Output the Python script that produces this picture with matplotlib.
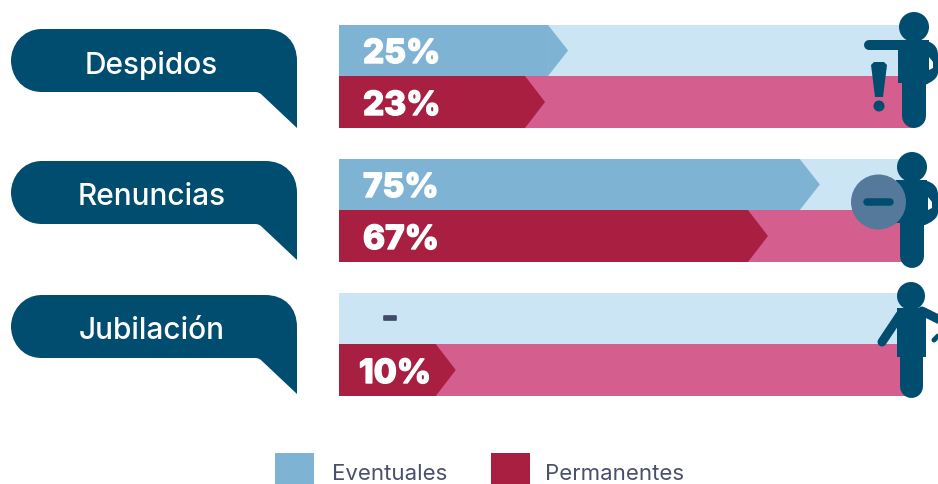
import matplotlib
matplotlib.use('Agg')
import matplotlib.pyplot as plt
import matplotlib.patheffects as pe
from matplotlib.patches import Circle, PathPatch, Polygon, Rectangle
from matplotlib.path import Path

categorias = ['Despidos', 'Renuncias', 'Jubilación']
eventuales_txt = ['25%', '75%', '-']
permanentes_txt = ['23%', '67%', '10%']
# bar length as drawn, in % of the track (the picture is not proportional to the labels)
eventuales_largo = [36.3, 80.0, 0]
permanentes_largo = [32.3, 71.0, 16.8]
series = ['Eventuales', 'Permanentes']

AZUL = '#7FB3D3'
AZUL_CLARO = '#CBE5F4'
ROJO = '#A81F41'
ROSA = '#D45F8E'
OSCURO = '#004D70'
GRIS = '#4A4F6A'
FUENTE = ['Inter', 'DejaVu Sans']

W, H = 938, 485
fig = plt.figure(figsize=(W / 100, H / 100), dpi=100)
fig.patch.set_facecolor('white')

# bars: x in % of the track, y in pixels
ax = fig.add_axes([339 / W, 0, 576 / W, 1])
ax.set_xlim(0, 100)
ax.set_ylim(H - 1, -1)
ax.axis('off')
TIP = 20 / 576 * 100


def flecha(y0, y1, largo, color):
    if largo <= 0:
        return
    ax.barh((y0 + y1) / 2, largo, height=y1 - y0, color=color, linewidth=0)
    ax.add_patch(Polygon([(largo, y0), (largo + TIP, (y0 + y1) / 2), (largo, y1)],
                         closed=True, facecolor=color, linewidth=0))


for i in range(len(categorias)):
    top = 25 + 134 * i
    ax.barh(top + 25.5, 100, height=51, color=AZUL_CLARO, linewidth=0)
    ax.barh(top + 77, 100, height=52, color=ROSA, linewidth=0)
    flecha(top, top + 51, eventuales_largo[i], AZUL)
    flecha(top + 51, top + 103, permanentes_largo[i], ROJO)

# everything else in pixels on top
ov = fig.add_axes([0, 0, 1, 1], zorder=5)
ov.set_xlim(0, W)
ov.set_ylim(H - 1, -1)
ov.axis('off')
ov.patch.set_alpha(0)


def burbuja(top):
    M, L, C = Path.MOVETO, Path.LINETO, Path.CURVE4
    b = top + 63
    verts = [(42, top), (265, top),
             (285, top), (297, top + 13), (297, top + 32),
             (297, top + 99),
             (262, top + 66),
             (260, b + 1), (258, b), (255, b),
             (42, b),
             (20, b), (11, top + 45), (11, top + 31.5),
             (11, top + 17), (22, top), (42, top)]
    codes = [M, L, C, C, C, L, L, C, C, C, L, C, C, C, C, C, C]
    ov.add_patch(PathPatch(Path(verts, codes), facecolor=OSCURO, linewidth=0))


def trazo(xs, ys, grosor, color=OSCURO, z=2):
    ov.plot(xs, ys, color=color, linewidth=grosor * 0.72, solid_capstyle='round', zorder=z)


def cuerpo(dx, dy):
    # head, torso, leg and bent right arm, shared by the first two figures
    ov.add_patch(Circle((914 + dx, 27 + dy), 15, color=OSCURO, linewidth=0))
    ov.add_patch(Rectangle((898 + dx, 40 + dy), 31, 43, color=OSCURO, linewidth=0))
    trazo([914 + dx, 914 + dx], [70 + dy, 116 + dy], 24)
    ov.add_patch(PathPatch(Path(
        [(918, 40 + dy), (932, 40 + dy), (938, 46 + dy), (938, 55 + dy),
         (938, 72 + dy), (938, 78 + dy), (932, 82 + dy), (925, 85 + dy),
         (918, 85 + dy), (918, 40 + dy)],
        [Path.MOVETO, Path.CURVE4, Path.CURVE4, Path.CURVE4, Path.LINETO,
         Path.CURVE4, Path.CURVE4, Path.CURVE4, Path.LINETO, Path.CLOSEPOLY]),
        facecolor=OSCURO, linewidth=0))
    ov.add_patch(Polygon([(929 + dx / 2, 57 + dy), (933 + dx / 2, 62 + dy),
                          (933 + dx / 2, 68 + dy), (929 + dx / 2, 70 + dy)],
                         closed=True, facecolor='white', linewidth=0, zorder=2))


for i, cat in enumerate(categorias):
    top = [29, 161, 295][i]
    burbuja(top)
    ov.text(151.5, top + 35, cat, color='white', fontsize=21.5, family=FUENTE,
            ha='center', va='center', fontweight='medium')

    y = 25 + 134 * i
    for txt, yc in zip([eventuales_txt[i], permanentes_txt[i]], [y + 29, y + 81]):
        if txt == '-':
            t = ov.text(390, yc - 3, txt, color='#3E4A66', fontsize=24, family=FUENTE,
                        fontweight='heavy', ha='center', va='center')
            t.set_path_effects([pe.withStroke(linewidth=1.2, foreground='#3E4A66')])
        else:
            t = ov.text(359 if txt == '10%' else 363, yc, txt, color='white', fontsize=24, family=FUENTE,
                        fontweight='heavy', ha='left', va='center')
            t.set_path_effects([pe.withStroke(linewidth=1.0, foreground='white')])

# first figure, pointing
cuerpo(0, 0)
trazo([869, 905], [44.5, 44.5], 10)
ov.add_patch(Polygon([(871, 65), (874, 62), (884, 62), (887, 65), (883, 97), (875, 97)],
                     closed=True, facecolor=OSCURO, linewidth=0))
ov.add_patch(Circle((879, 106), 5.5, color=OSCURO, linewidth=0))

# second figure, minus sign
cuerpo(-2, 140)
ov.add_patch(Circle((878.5, 202), 27.5, color='#55799A', linewidth=0, zorder=3))
trazo([867, 890], [202, 202], 7.5, z=4)

# third figure, arms down
ov.add_patch(Circle((911, 296), 14, color=OSCURO, linewidth=0))
ov.add_patch(Rectangle((897, 308), 29, 49, color=OSCURO, linewidth=0))
trazo([911, 911], [345, 386], 23)
trazo([900, 882], [315, 342], 9)
trazo([922, 940], [311, 320], 9)
trazo([934, 938], [340, 336], 5)

# legend
for x0, col, xt, nombre in zip([275, 491], [AZUL, ROJO], [332, 545], series):
    ov.add_patch(Rectangle((x0, 453), 39, 32, color=col, linewidth=0))
    ov.text(xt, 473, nombre, color=GRIS, fontsize=16, family=FUENTE, ha='left', va='center')

fig.savefig('out.png', dpi=100)
